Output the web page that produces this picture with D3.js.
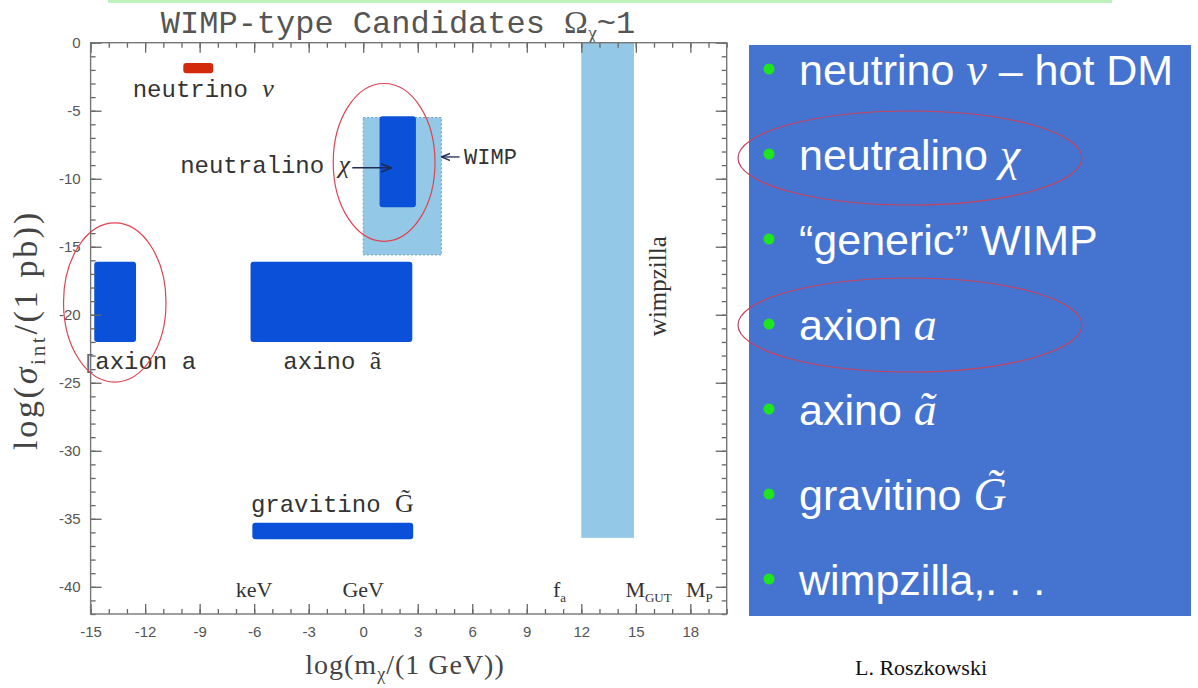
<!DOCTYPE html>
<html>
<head>
<meta charset="utf-8">
<script src="https://cdn.jsdelivr.net/npm/d3@7"></script>
<style>
  html, body { margin: 0; padding: 0; background: #fff; }
  svg { display: block; }
</style>
</head>
<body>
<svg id="chart" width="1198" height="688"></svg>
<script>
// ---------------- data ----------------
const boxNames = ["wimpzilla", "generic WIMP", "neutralino", "neutrino", "axion", "axino", "gravitino"];
const boxKind  = ["wide", "wide", "core", "hot", "core", "core", "core"];
const boxX0 = [12.0, 0.0, 0.9, -9.9, -14.8, -6.2, -6.1];
const boxX1 = [14.9, 4.3, 2.9, -8.25, -12.5, 2.7, 2.75];
const boxY0 = [-36.4, -15.6, -12.1, -2.25, -22.0, -22.0, -36.5];
const boxY1 = [0.0, -5.5, -5.4, -1.5, -16.1, -16.1, -35.3];

const xTickLabels = [-15, -12, -9, -6, -3, 0, 3, 6, 9, 12, 15, 18];
const yTickLabels = [0, -5, -10, -15, -20, -25, -30, -35, -40];

const scaleNames = ["keV", "GeV", "f", "M", "M"];
const scaleSubs  = ["", "", "a", "GUT", "P"];
const scaleX     = [-6, 0, 10.8, 15.7, 18.5];

const plotPrefix  = ["", "", "[", "", ""];
const plotLabels  = ["neutrino ", "neutralino ", "axion a", "axino ", "gravitino "];
const plotSymbols = ["ν", "χ", "", "a\u0303", "G\u0303"];
const plotLabelX  = [-8.8, -5.4, -12.3, -1.7, -1.7];
const plotLabelY  = [-4.0, -9.6, -24.0, -24.0, -34.5];

const bulletText   = ["neutrino ", "neutralino ", "\u201Cgeneric\u201D WIMP", "axion ", "axino ", "gravitino ", "wimpzilla,. . ."];
const bulletSymbol = ["ν", "χ", "", "a", "a\u0303", "G\u0303", ""];
const bulletTail   = [" \u2013 hot DM", "", "", "", "", "", ""];

// ---------------- setup ----------------
const svg = d3.select("#chart");
const x = d3.scaleLinear().domain([-15, 20]).range([90.6, 726.7]);
const y = d3.scaleLinear().domain([-42, 0]).range([614, 42.7]);
const colors = { wide: "#93c9e6", core: "#0a50d8", hot: "#d42a0c" };

svg.append("rect").attr("width", 1198).attr("height", 688).attr("fill", "#fff");

// top green line
svg.append("line").attr("x1", 108).attr("x2", 1112).attr("y1", 1.5).attr("y2", 1.5)
  .attr("stroke", "#bdf2bd").attr("stroke-width", 3);

// title
const title = svg.append("text").attr("x", 398).attr("y", 33).attr("text-anchor", "middle")
  .attr("font-family", "Liberation Mono, monospace").attr("font-size", 32).attr("fill", "#555");
title.append("tspan").text("WIMP-type Candidates ");
title.append("tspan").attr("font-family", "Liberation Serif, serif").text("Ω");
title.append("tspan").attr("font-size", 20).attr("dy", 7).attr("font-family", "Liberation Serif, serif").text("χ");
title.append("tspan").attr("dy", -7).text("~1");

// ---------------- boxes ----------------
const boxes = boxNames.map((n, i) => ({ n, kind: boxKind[i], x0: boxX0[i], x1: boxX1[i], y0: boxY0[i], y1: boxY1[i] }));
svg.append("g").selectAll("rect").data(boxes).join("rect")
  .attr("x", d => x(d.x0)).attr("y", d => y(d.y1))
  .attr("width", d => x(d.x1) - x(d.x0)).attr("height", d => y(d.y0) - y(d.y1))
  .attr("rx", d => d.kind === "wide" ? 0 : 3)
  .attr("fill", d => colors[d.kind])
  .attr("stroke", d => d.n === "generic WIMP" ? "#6f9fc4" : "none")
  .attr("stroke-dasharray", "2,2").attr("stroke-width", 1);

// ---------------- axes ----------------
const axG = svg.append("g").attr("font-family", "Liberation Sans, Arial, sans-serif");
function styleAxis(g) {
  g.select(".domain").remove();
  g.selectAll(".tick line").attr("stroke", "#666").attr("stroke-width", 1.3);
  g.selectAll(".tick text").attr("fill", "#555").attr("font-size", 15);
}
const yBot = y(-42), yTop = y(0), xL = x(-15), xR = x(20);
axG.append("g").attr("transform", `translate(0,${yBot})`)
  .call(d3.axisBottom(x).tickValues(d3.range(-15, 21, 1)).tickSize(-5).tickFormat("")).call(styleAxis);
axG.append("g").attr("transform", `translate(0,${yBot})`)
  .call(d3.axisBottom(x).tickValues(xTickLabels).tickSize(-10).tickPadding(12).tickFormat(d => String(d))).call(styleAxis);
axG.append("g").attr("transform", `translate(0,${yTop})`)
  .call(d3.axisTop(x).tickValues(d3.range(-15, 21, 1)).tickSize(-5).tickFormat("")).call(styleAxis);
axG.append("g").attr("transform", `translate(0,${yTop})`)
  .call(d3.axisTop(x).tickValues(xTickLabels).tickSize(-10).tickFormat("")).call(styleAxis);
axG.append("g").attr("transform", `translate(${xL},0)`)
  .call(d3.axisLeft(y).tickValues(d3.range(-42, 1, 1)).tickSize(-5).tickFormat("")).call(styleAxis);
axG.append("g").attr("transform", `translate(${xL},0)`)
  .call(d3.axisLeft(y).tickValues(yTickLabels).tickSize(-11).tickPadding(10).tickFormat(d => String(d))).call(styleAxis);
axG.append("g").attr("transform", `translate(${xR},0)`)
  .call(d3.axisRight(y).tickValues(d3.range(-42, 1, 1)).tickSize(-5).tickFormat("")).call(styleAxis);
axG.append("g").attr("transform", `translate(${xR},0)`)
  .call(d3.axisRight(y).tickValues(yTickLabels).tickSize(-11).tickFormat("")).call(styleAxis);
svg.append("rect").attr("x", xL).attr("y", yTop).attr("width", xR - xL).attr("height", yBot - yTop)
  .attr("fill", "none").attr("stroke", "#777").attr("stroke-width", 1.4);

// axis titles
const yt = svg.append("text").attr("transform", `translate(37,330) rotate(-90)`)
  .attr("text-anchor", "middle").attr("font-family", "Liberation Serif, serif").attr("font-size", 34)
  .attr("fill", "#444").attr("letter-spacing", 2.7);
yt.append("tspan").text("log(");
yt.append("tspan").attr("font-style", "italic").text("σ");
yt.append("tspan").attr("font-size", 21).attr("dy", 8).text("int");
yt.append("tspan").attr("dy", -8).text("/(1  pb))");

const xt = svg.append("text").attr("x", 405).attr("y", 674).attr("text-anchor", "middle")
  .attr("font-family", "Liberation Serif, serif").attr("font-size", 28).attr("fill", "#444").attr("letter-spacing", 1);
xt.append("tspan").text("log(m");
xt.append("tspan").attr("font-size", 18).attr("dy", 6).text("χ");
xt.append("tspan").attr("dy", -6).text("/(1  GeV))");

// mass-scale labels
const sl = svg.append("g").attr("font-family", "Liberation Serif, serif").attr("fill", "#333").attr("font-size", 22);
scaleNames.forEach((n, i) => {
  const t = sl.append("text").attr("x", x(scaleX[i])).attr("y", 597).attr("text-anchor", "middle");
  t.append("tspan").text(n);
  if (scaleSubs[i]) t.append("tspan").attr("font-size", 13).attr("dy", 5).text(scaleSubs[i]);
});

// plot labels
const pl = svg.append("g").attr("font-family", "Liberation Mono, monospace").attr("font-size", 24).attr("fill", "#333");
plotLabels.forEach((s, i) => {
  const t = pl.append("text").attr("x", x(plotLabelX[i])).attr("y", y(plotLabelY[i])).attr("text-anchor", "middle");
  if (plotPrefix[i]) t.append("tspan").attr("font-size", 20).attr("fill", "#666").text(plotPrefix[i]);
  t.append("tspan").text(s);
  if (plotSymbols[i]) t.append("tspan").attr("font-family", "Liberation Serif, serif")
    .attr("font-style", (i < 2) ? "italic" : "normal").attr("font-size", 26).text(plotSymbols[i]);
});

// WIMP label + arrows
svg.append("defs").append("marker").attr("id", "ah").attr("viewBox", "0 0 10 10").attr("refX", 9).attr("refY", 5)
  .attr("markerWidth", 7).attr("markerHeight", 7).attr("orient", "auto")
  .append("path").attr("d", "M0,1 L10,5 L0,9").attr("fill", "none").attr("stroke", "#1d2b55").attr("stroke-width", 1.6);
svg.append("line").attr("x1", x(-0.6)).attr("x2", x(1.5)).attr("y1", y(-9.2)).attr("y2", y(-9.2))
  .attr("stroke", "#1d2b55").attr("stroke-width", 1.5).attr("marker-end", "url(#ah)");
svg.append("line").attr("x1", x(5.3)).attr("x2", x(4.35)).attr("y1", y(-8.4)).attr("y2", y(-8.4))
  .attr("stroke", "#1d2b55").attr("stroke-width", 1.3).attr("marker-end", "url(#ah)");
pl.append("text").attr("x", x(5.55)).attr("y", y(-8.4) + 7).attr("font-size", 22).text("WIMP");

// wimpzilla label
svg.append("text").attr("transform", `translate(${x(16.65)},${y(-17.9)}) rotate(-90)`).attr("text-anchor", "middle")
  .attr("font-family", "Liberation Serif, serif").attr("font-size", 25).attr("fill", "#333").text("wimpzilla");

// red ellipses on plot
const ellCx = [1.15, -13.67], ellCy = [-8.8, -19.1], ellRx = [2.8, 2.82], ellRy = [5.8, 5.85];
ellCx.forEach((c, i) => {
  svg.append("ellipse").attr("cx", x(c)).attr("cy", y(ellCy[i]))
    .attr("rx", x(c + ellRx[i]) - x(c)).attr("ry", y(ellCy[i] - ellRy[i]) - y(ellCy[i]))
    .attr("fill", "none").attr("stroke", "#e0434f").attr("stroke-width", 1.2);
});

// ---------------- right panel ----------------
svg.append("rect").attr("x", 749).attr("y", 45).attr("width", 442).attr("height", 571).attr("fill", "#4574d0");
const rowY = d3.scaleLinear().domain([0, 6]).range([70, 580]);
const rp = svg.append("g");
bulletText.forEach((s, i) => {
  rp.append("circle").attr("cx", 769).attr("cy", rowY(i) - 1).attr("r", 5.5).attr("fill", "#1ee51e");
  const t = rp.append("text").attr("x", 799).attr("y", rowY(i) + 15).attr("fill", "#fff")
    .attr("font-family", "Liberation Sans, Arial, sans-serif").attr("font-size", 43);
  t.append("tspan").text(s);
  if (bulletSymbol[i]) t.append("tspan").attr("font-family", "Liberation Serif, serif").attr("font-style", "italic")
    .attr("font-size", 46).text(bulletSymbol[i]);
  if (bulletTail[i]) t.append("tspan").text(bulletTail[i]);
});
// red ellipses on panel
[158, 325].forEach(cy => {
  svg.append("ellipse").attr("cx", 910).attr("cy", cy).attr("rx", 172).attr("ry", 47)
    .attr("fill", "none").attr("stroke", "#c8405a").attr("stroke-width", 1.2);
});

svg.append("text").attr("x", 921).attr("y", 675).attr("text-anchor", "middle")
  .attr("font-family", "Liberation Serif, serif").attr("font-size", 22).attr("fill", "#111").text("L. Roszkowski");
</script>
</body>
</html>
